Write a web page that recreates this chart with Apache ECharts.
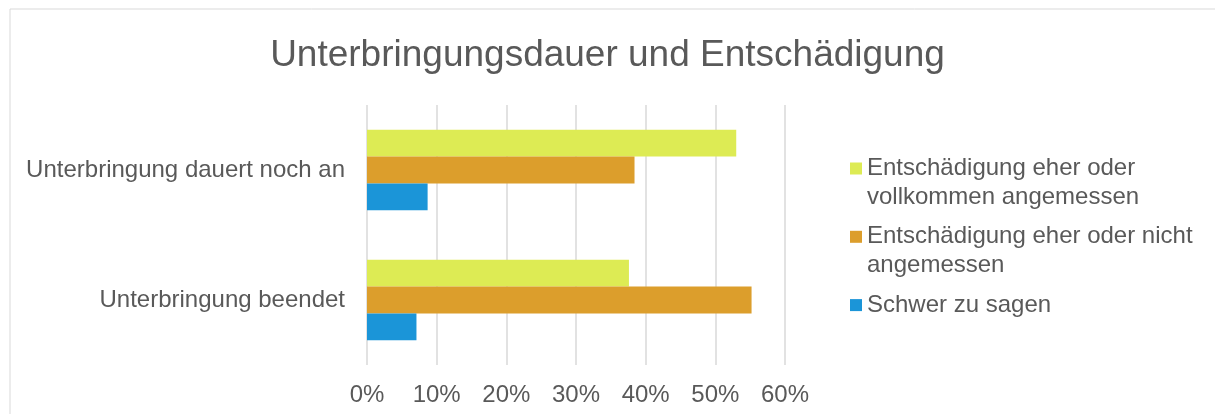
<!DOCTYPE html>
<html>
<head>
<meta charset="utf-8">
<script src="https://cdn.jsdelivr.net/npm/echarts@6/dist/echarts.min.js"></script>
<style>
  html, body { margin: 0; padding: 0; background: #fff; }
  #chart { width: 1215px; height: 414px; }
</style>
</head>
<body>
<div id="chart"></div>
<script>
  // data (percent)
  const categories = ['Unterbringung dauert noch an', 'Unterbringung beendet'];
  const seriesNames = [
    'Entschädigung eher oder vollkommen angemessen',
    'Entschädigung eher oder nicht angemessen',
    'Schwer zu sagen'
  ];
  const angemessen = [53.0, 37.6];
  const nichtAngemessen = [38.4, 55.2];
  const schwer = [8.7, 7.1];
  const xTicks = [0, 60, 10]; // min, max, interval

  // how the legend wraps the names
  const legendLines = {
    'Entschädigung eher oder vollkommen angemessen': ['Entschädigung eher oder', 'vollkommen angemessen'],
    'Entschädigung eher oder nicht angemessen': ['Entschädigung eher oder nicht', 'angemessen'],
    'Schwer zu sagen': ['Schwer zu sagen', ' ']
  };

  const colors = ['#DDEB54', '#DC9E2C', '#1B95D8'];
  const textColor = '#595959';
  const font = 'Liberation Sans, Arial, sans-serif';

  const chart = echarts.init(document.getElementById('chart'));

  const values = [angemessen, nichtAngemessen, schwer];
  const series = seriesNames.map((name, i) => ({
    name: name,
    type: 'bar',
    data: values[i],
    barGap: '0%',
    barCategoryGap: '38%',
    itemStyle: { color: colors[i] }
  }));

  const option = {
    animation: false,
    textStyle: { fontFamily: font },
    title: {
      text: 'Unterbringungsdauer und Entschädigung',
      left: 'center',
      top: 32,
      textStyle: { color: textColor, fontSize: 37, fontWeight: 'normal', fontFamily: font }
    },
    graphic: [{
      type: 'rect',
      z: -10,
      shape: { x: 10, y: 9, width: 1400, height: 600 },
      style: { fill: 'none', stroke: '#d9d9d9', lineWidth: 1 }
    }],
    legend: {
      orient: 'vertical',
      left: 850,
      top: 125,
      padding: 0,
      itemWidth: 12,
      itemHeight: 12,
      itemGap: -18.7,
      icon: 'rect',
      data: seriesNames,
      // blank first line keeps the icon beside the first line of text
      formatter: name => ' \n' + legendLines[name].join('\n'),
      textStyle: {
        color: textColor,
        fontSize: 24,
        lineHeight: 29,
        fontFamily: font
      }
    },
    grid: { left: 367, right: 430, top: 105, bottom: 49, containLabel: false },
    xAxis: {
      type: 'value',
      min: xTicks[0],
      max: xTicks[1],
      interval: xTicks[2],
      axisLine: { show: false },
      axisTick: { show: false },
      splitLine: { lineStyle: { color: '#d9d9d9', width: 1.5 } },
      axisLabel: {
        formatter: '{value}%',
        color: textColor,
        fontSize: 24,
        fontFamily: font,
        margin: 18
      }
    },
    yAxis: {
      type: 'category',
      inverse: true,
      data: categories,
      axisLine: { show: false },
      axisTick: { show: false },
      axisLabel: { color: textColor, fontSize: 24, fontFamily: font, margin: 22 }
    },
    series: series
  };

  chart.setOption(option);
</script>
</body>
</html>
